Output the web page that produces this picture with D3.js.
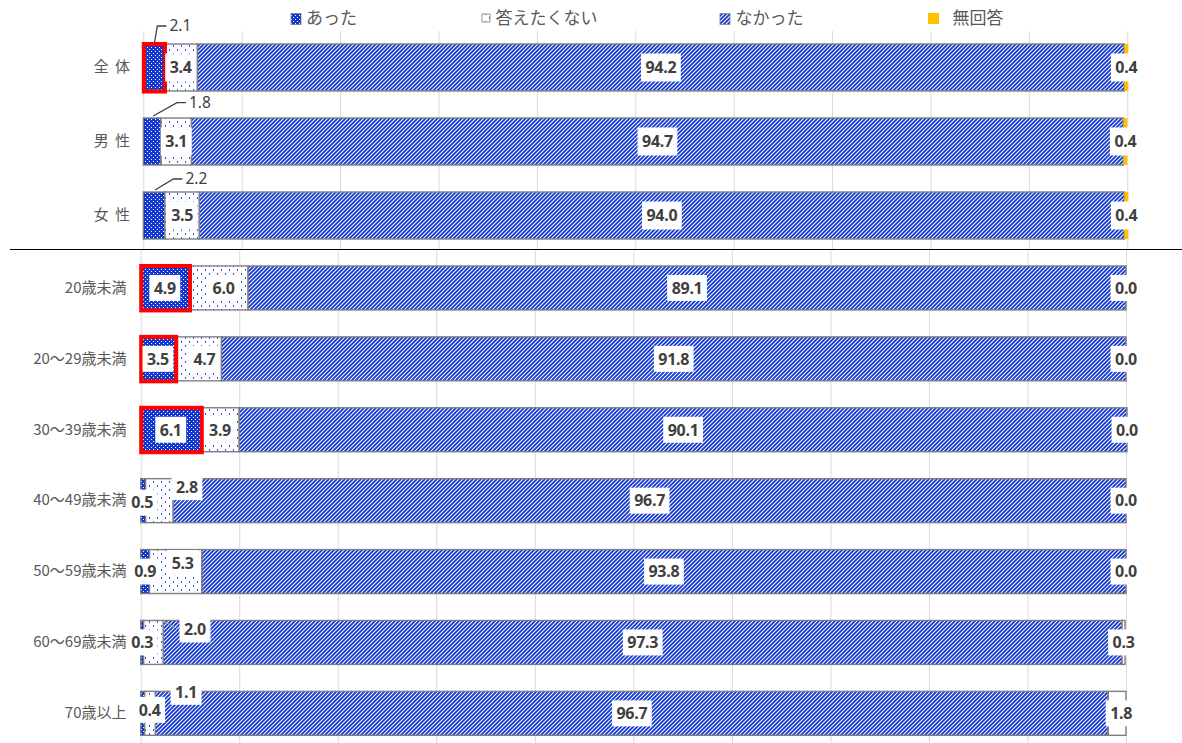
<!DOCTYPE html>
<html>
<head>
<meta charset="utf-8">
<script src="https://cdn.jsdelivr.net/npm/d3@7"></script>
<style>
  html, body { margin: 0; padding: 0; background: #fff; }
  svg { display: block; }
</style>
</head>
<body>
<svg id="chart" width="1182" height="743"></svg>
<script>
// ---- data ---------------------------------------------------------------
const seriesKeys = ["あった", "答えたくない", "なかった", "無回答"];

const topCategories = ["全 体", "男 性", "女 性"];
const topAtta  = [2.1, 1.8, 2.2];
const topKotae = [3.4, 3.1, 3.5];
const topNaka  = [94.2, 94.7, 94.0];
const topMu    = [0.4, 0.4, 0.4];

const ageCategories = ["20歳未満", "20～29歳未満", "30～39歳未満", "40～49歳未満",
                       "50～59歳未満", "60～69歳未満", "70歳以上"];
const ageAtta  = [4.9, 3.5, 6.1, 0.5, 0.9, 0.3, 0.4];
const ageKotae = [6.0, 4.7, 3.9, 2.8, 5.3, 2.0, 1.1];
const ageNaka  = [89.1, 91.8, 90.1, 96.7, 93.8, 97.3, 96.7];
const ageMu    = [0.0, 0.0, 0.0, 0.0, 0.0, 0.3, 1.8];

const axisTicks = [0, 10, 20, 30, 40, 50, 60, 70, 80, 90, 100];

// rows whose "あった" segment is framed in red
const highlighted = ["全 体", "20歳未満", "20～29歳未満", "30～39歳未満"];

// ---- label placement tweaks (pixels) ----------------------------------
const labelNudge = {
  "20歳未満|答えたくない": [5, 0],
  "20～29歳未満|答えたくない": [6, 0],
  "40～49歳未満|あった": [-1, 2],
  "40～49歳未満|答えたくない": [27.5, -13.5],
  "50～59歳未満|答えたくない": [7, -8.5],
  "60～69歳未満|答えたくない": [41.5, -13],
  "70歳以上|あった": [7, -3.5],
  "70歳以上|答えたくない": [36, -21.5],
  "70歳以上|無回答": [4, 0]
};
const leaderLabels = ["60～69歳未満|答えたくない"];
// callouts above the bar for the small "あった" values in the upper block
const callouts = { "全 体": [26.7, -41.5], "男 性": [47.8, -38.8], "女 性": [42.2, -36.5] };

// ---- helpers -----------------------------------------------------------
function buildRows(cats, a, b, c, d) {
  return cats.map((cat, i) => ({
    cat, "あった": a[i], "答えたくない": b[i], "なかった": c[i], "無回答": d[i]
  }));
}

const BLUE = "#1238d0";
const DOT = "#2a55f0";
const GREY = "#7f7f7f";
const LABEL = "#404040";
const CJK = "'Noto Sans CJK JP','Noto Sans',sans-serif";
const LATIN = "'Noto Sans','DejaVu Sans',sans-serif";
const fmt = d3.format(".1f");

const svg = d3.select("#chart");
svg.append("rect").attr("width", 1182).attr("height", 743).attr("fill", "#fff");

// ---- fill patterns -----------------------------------------------------
const defs = svg.append("defs");

const pAtta = defs.append("pattern").attr("id", "p-atta")
  .attr("patternUnits", "userSpaceOnUse").attr("width", 4).attr("height", 4);
pAtta.append("rect").attr("width", 4).attr("height", 4).attr("fill", BLUE);
pAtta.append("rect").attr("x", 1).attr("y", 1).attr("width", 1).attr("height", 1).attr("fill", "#fff");
pAtta.append("rect").attr("x", 3).attr("y", 3).attr("width", 1).attr("height", 1).attr("fill", "#fff");

const pKotae = defs.append("pattern").attr("id", "p-kotae")
  .attr("patternUnits", "userSpaceOnUse").attr("width", 8).attr("height", 8);
pKotae.append("rect").attr("width", 8).attr("height", 8).attr("fill", "#fff");
pKotae.append("rect").attr("x", 1).attr("y", 1).attr("width", 1).attr("height", 1.5)
  .attr("fill", DOT).attr("shape-rendering", "crispEdges");
pKotae.append("rect").attr("x", 5).attr("y", 5).attr("width", 1).attr("height", 1.5)
  .attr("fill", DOT).attr("shape-rendering", "crispEdges");

const pNaka = defs.append("pattern").attr("id", "p-naka")
  .attr("patternUnits", "userSpaceOnUse").attr("width", 4).attr("height", 4);
pNaka.append("rect").attr("width", 4).attr("height", 4).attr("fill", "#fff");
pNaka.append("path").attr("d", "M0,4L4,0M-1,1L1,-1M3,5L5,3")
  .attr("stroke", BLUE).attr("stroke-width", 1.8);

// ---- panels ------------------------------------------------------------
const panels = [
  {
    rows: buildRows(topCategories, topAtta, topKotae, topNaka, topMu),
    cats: topCategories,
    x0: 143.3, x1: 1127.3, y0: 30.5, y1: 252.5, pad: 0.365,
    gridTop: 31, gridBottom: 249, labelRight: 130, boxH: 28,
    muFill: "#ffc000", muStroke: "none", useCallouts: true
  },
  {
    rows: buildRows(ageCategories, ageAtta, ageKotae, ageNaka, ageMu),
    cats: ageCategories,
    x0: 140.7, x1: 1126, y0: 252.5, y1: 748.8, pad: 0.38,
    gridTop: 250.5, gridBottom: 743, labelRight: 126.5, boxH: 26,
    muFill: "#fff", muStroke: GREY, useCallouts: false
  }
];

const stack = d3.stack().keys(seriesKeys);

panels.forEach(p => {
  const x = d3.scaleLinear().domain([0, 100]).range([p.x0, p.x1]);
  const y = d3.scaleBand().domain(p.cats).range([p.y0, p.y1])
    .paddingInner(p.pad).paddingOuter(p.pad / 2);

  // vertical gridlines
  svg.append("g")
    .attr("transform", `translate(0,${p.gridBottom})`)
    .call(d3.axisBottom(x).tickValues(axisTicks)
      .tickSize(-(p.gridBottom - p.gridTop)).tickFormat(""))
    .call(g => g.select(".domain").remove())
    .call(g => g.selectAll("line").attr("stroke", "#d9d9d9").attr("stroke-width", 1));

  // category labels
  svg.append("g")
    .attr("transform", `translate(${p.labelRight},0)`)
    .call(d3.axisLeft(y).tickSize(0).tickPadding(0))
    .call(g => g.select(".domain").remove())
    .attr("font-family", CJK).attr("font-size", 15)
    .call(g => g.selectAll("text").attr("fill", "#595959").attr("word-spacing", 3));

  const series = stack(p.rows);
  const fills = { "あった": "url(#p-atta)", "答えたくない": "url(#p-kotae)",
                  "なかった": "url(#p-naka)", "無回答": p.muFill };
  const strokes = { "あった": GREY, "答えたくない": GREY, "なかった": GREY, "無回答": p.muStroke };

  const bars = svg.append("g");
  series.forEach(s => {
    bars.selectAll(null).data(s).join("rect")
      .attr("x", d => x(d[0]))
      .attr("width", d => Math.max(0, x(d[1]) - x(d[0])))
      .attr("y", d => y(d.data.cat))
      .attr("height", y.bandwidth())
      .attr("fill", fills[s.key])
      .attr("stroke", strokes[s.key])
      .attr("stroke-width", 1.4);
  });

  // red frames
  const atta = series[0];
  svg.append("g").selectAll("rect")
    .data(atta.filter(d => highlighted.includes(d.data.cat)))
    .join("rect")
    .attr("x", d => x(d[0]) + 0.5)
    .attr("y", d => y(d.data.cat))
    .attr("width", d => x(d[1]) - x(d[0]) + 0.5)
    .attr("height", y.bandwidth() + 0.5)
    .attr("fill", "none")
    .attr("stroke", "#ff0000")
    .attr("stroke-width", 4);

  // value labels
  const lg = svg.append("g");
  series.forEach(s => {
    s.forEach(d => {
      const cat = d.data.cat, key = s.key, v = d.data[key];
      const cx = (x(d[0]) + x(d[1])) / 2;
      const cy = y(cat) + y.bandwidth() / 2;

      if (p.useCallouts && key === "あった") {
        const [dx, dy] = callouts[cat];
        const t = lg.append("text")
          .attr("x", cx + dx).attr("y", cy + dy).attr("dy", "0.35em")
          .attr("text-anchor", "middle")
          .attr("font-family", LATIN).attr("font-size", 15.5)
          .attr("fill", LABEL).text(fmt(v));
        const w = t.node().getComputedTextLength();
        const left = cx + dx - w / 2;
        lg.append("path")
          .attr("d", `M${cx + 1},${y(cat) - 2}L${left - 12},${cy + dy}L${left - 3},${cy + dy}`)
          .attr("fill", "none").attr("stroke", LABEL).attr("stroke-width", 1.3);
        return;
      }

      const off = labelNudge[cat + "|" + key] || [0, 0];
      const gx = cx + off[0], gy = cy + off[1];
      const gg = lg.append("g").attr("transform", `translate(${gx},${gy})`);
      const box = gg.append("rect");
      const t = gg.append("text")
        .attr("text-anchor", "middle").attr("dy", "0.36em")
        .attr("font-family", LATIN).attr("font-weight", 700).attr("font-size", 16)
        .attr("letter-spacing", -0.3)
        .attr("fill", LABEL).text(fmt(v));
      const w = t.node().getComputedTextLength() + 9;
      box.attr("x", -w / 2).attr("y", -p.boxH / 2)
        .attr("width", w).attr("height", p.boxH).attr("fill", "#fff");

      if (leaderLabels.includes(cat + "|" + key)) {
        lg.insert("line", ":first-child")
          .attr("x1", x(d[1])).attr("y1", y(cat) + 1)
          .attr("x2", gx - w / 2).attr("y2", gy)
          .attr("stroke", "#a6a6a6").attr("stroke-width", 1);
      }
    });
  });
});

// divider between the overall block and the age block
svg.append("line")
  .attr("x1", 10).attr("x2", 1182).attr("y1", 249.5).attr("y2", 249.5)
  .attr("stroke", "#000").attr("stroke-width", 1);

// ---- legend ------------------------------------------------------------
const legendItems = [
  { key: "あった", fill: "url(#p-atta)", stroke: GREY, sx: 291, sy: 13.5, sw: 10, sh: 11, tx: 306 },
  { key: "答えたくない", fill: "url(#p-kotae)", stroke: GREY, sx: 482, sy: 14, sw: 8, sh: 8, tx: 495.5 },
  { key: "なかった", fill: "url(#p-naka)", stroke: GREY, sx: 720, sy: 13.5, sw: 10, sh: 11, tx: 735.5 },
  { key: "無回答", fill: "#ffc000", stroke: "none", sx: 928, sy: 13, sw: 11, sh: 11, tx: 952.5 }
];
const legend = svg.append("g");
legendItems.forEach(it => {
  legend.append("rect").attr("x", it.sx).attr("y", it.sy)
    .attr("width", it.sw).attr("height", it.sh)
    .attr("fill", it.fill).attr("stroke", it.stroke).attr("stroke-width", 0.8);
  legend.append("text").attr("x", it.tx).attr("y", 18).attr("dy", "0.36em")
    .attr("font-family", CJK).attr("font-size", 17).attr("fill", "#595959")
    .text(it.key);
});
</script>
</body>
</html>
